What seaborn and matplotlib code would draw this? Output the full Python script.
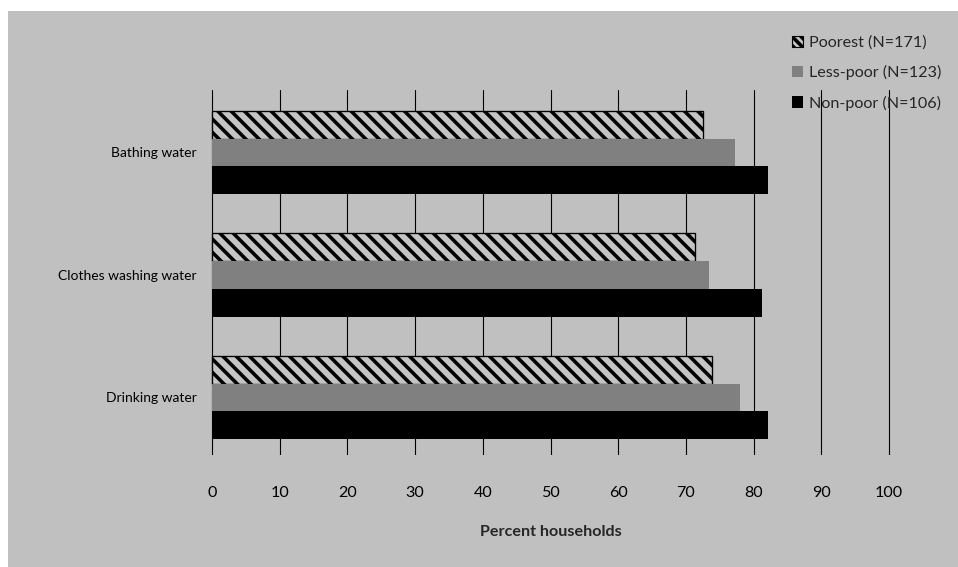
import numpy as np
import pandas as pd
import seaborn as sns
import matplotlib.pyplot as plt
from matplotlib.patches import Patch, Rectangle

# data
sources = ["Bathing water", "Clothes washing water", "Drinking water"]
groups = ["Poorest (N=171)", "Less-poor (N=123)", "Non-poor (N=106)"]
poorest = [72.6, 71.4, 73.9]
less_poor = [77.3, 73.4, 78.0]
non_poor = [82.2, 81.3, 82.2]
x_ticks = [0, 10, 20, 30, 40, 50, 60, 70, 80, 90, 100]

df = pd.DataFrame({
    "source": sources * 3,
    "group": [groups[0]] * 3 + [groups[1]] * 3 + [groups[2]] * 3,
    "pct": poorest + less_poor + non_poor,
})

bg = "#c0c0c0"
colors = ["#c4c4c4", "#808080", "#000000"]

sns.set_theme(style="white")
plt.rcParams["font.family"] = ["Lato", "DejaVu Sans"]
plt.rcParams["hatch.linewidth"] = 3.2
plt.rcParams["hatch.color"] = "#1a1a1a"

dpi = 80
fig = plt.figure(figsize=(958 / dpi, 567 / dpi), dpi=dpi, facecolor="white")
fig.patches.append(Rectangle((8 / 958, 0), 1, 1 - 11 / 567, transform=fig.transFigure,
                             facecolor=bg, edgecolor="none", zorder=-1))
# axes a bit wider than 0-100 so the 100 grid line is not clipped
ax = fig.add_axes([210 / 958, 1 - 455 / 567, (891 - 210) / 958, (455 - 90) / 567])
ax.set_facecolor("none")

sns.barplot(data=df, x="pct", y="source", hue="group", order=sources, hue_order=groups,
            palette=colors, orient="h", width=0.68, gap=0, linewidth=0,
            saturation=1, errorbar=None, legend=False, ax=ax)

# hatch the poorest bars
for bar in ax.containers[0]:
    bar.set_hatch("\\\\")
    bar.set_edgecolor("black")
    bar.set_linewidth(1.2)

ax.set_xlim(-0.3, 100.3)
ax.set_ylim(2.47, -0.51)
ax.set_xticks(x_ticks)
ax.grid(axis="x", color="black", linewidth=1)
ax.grid(axis="y", visible=False)
ax.set_axisbelow(True)
for s in ax.spines.values():
    s.set_visible(False)
ax.tick_params(axis="x", length=0, pad=28, labelsize=14.5, colors="black")
ax.tick_params(axis="y", length=0, pad=12, labelsize=12.5, colors="black")
ax.set_ylabel("")
ax.set_xlabel("Percent households", fontsize=14.5, fontweight="bold", labelpad=22)

handles = [Patch(facecolor=colors[0], edgecolor="black", hatch="\\\\\\", linewidth=1),
           Patch(facecolor=colors[1], edgecolor="none"),
           Patch(facecolor=colors[2], edgecolor="none")]
fig.legend(handles=handles, labels=groups, loc="upper left",
           bbox_to_anchor=(777 / 958, 1 - 21 / 567), frameon=False,
           fontsize=14.5, handlelength=0.7, handleheight=0.7, handletextpad=0.4,
           labelspacing=0.95)

fig.savefig("out.png", dpi=dpi, facecolor="white")
